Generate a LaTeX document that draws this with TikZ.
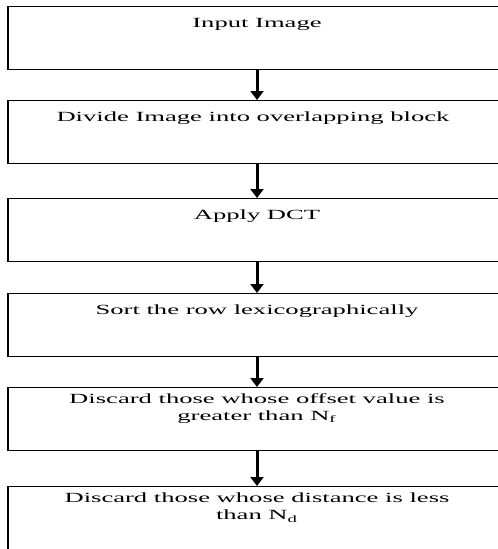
\documentclass[tikz,border=0pt]{standalone}
\usepackage{fontspec}
\setmainfont{Liberation Serif}
\usepackage{graphicx}
\usetikzlibrary{arrows.meta,positioning}
\newcommand{\wide}[1]{\scalebox{1.9}[1]{#1}}
\tikzset{
  stage/.style={draw, line width=1.4pt, minimum width=498pt, minimum height=63pt, anchor=north, inner sep=0pt},
  caption/.style={font=\fontsize{14}{17}\selectfont, align=center, anchor=north, inner sep=0pt},
  flow/.style={line width=3pt, -{Triangle[width=13pt,length=9pt]}}
}

\begin{document}
\begin{tikzpicture}[x=1pt,y=1pt]
 \useasboundingbox (0,0) rectangle (498,-549);
 \clip (0,0) rectangle (498,-549);
 % stages
 \node[stage] (b1) at (257,-6) {};
 \node[stage] (b2) at (257,-100) {};
 \node[stage] (b3) at (257,-198) {};
 \node[stage] (b4) at (257,-293) {};
 \node[stage] (b5) at (257,-387) {};
 \node[stage, minimum height=80pt] (b6) at (257,-486) {};
 % texts
 \node[caption] (t1) at ([yshift=-12pt]b1.north) {\wide{Input Image}};
 \node[caption] (t2) at ([xshift=-4pt,yshift=-12pt]b2.north) {\wide{Divide Image into overlapping block}};
 \node[caption] (t3) at ([yshift=-12pt]b3.north) {\wide{Apply DCT}};
 \node[caption] (t4) at ([yshift=-12pt]b4.north) {\wide{Sort the row lexicographically}};
 \node[caption] (t5) at ([yshift=-6pt]b5.north) {\wide{Discard those whose offset value is}\\ \wide{greater than N\textsubscript{f}}};
 \node[caption] (t6) at ([yshift=-7pt]b6.north) {\wide{Discard those whose distance is less}\\ \wide{than N\textsubscript{d}}};
 % arrows
 \draw[flow] (b1.south) -- (b2.north);
 \draw[flow] (b2.south) -- (b3.north);
 \draw[flow] (b3.south) -- (b4.north);
 \draw[flow] (b4.south) -- (b5.north);
 \draw[flow] (b5.south) -- (b6.north);
\end{tikzpicture}
\end{document}
